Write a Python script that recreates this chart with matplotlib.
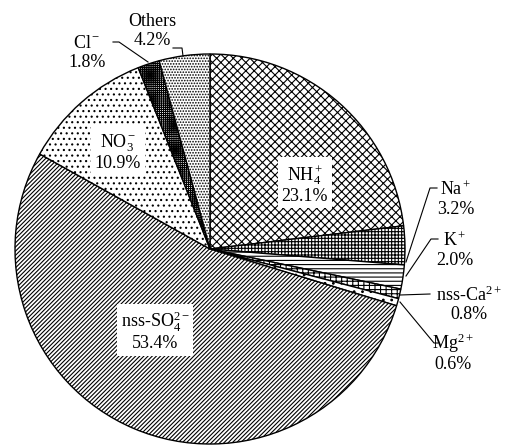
import matplotlib
matplotlib.use("Agg")
import matplotlib.pyplot as plt

plt.rcParams['font.family'] = ['Liberation Serif', 'DejaVu Serif']
plt.rcParams['mathtext.fontset'] = 'custom'
plt.rcParams['mathtext.rm'] = 'Liberation Serif'
plt.rcParams['mathtext.it'] = 'Liberation Serif:italic'
plt.rcParams['hatch.linewidth'] = 0.8

# ion shares, clockwise from 12 o'clock
ions = ['NH$_4^+$', 'Na$^+$', 'K$^+$', 'nss-Ca$^{2+}$', 'Mg$^{2+}$',
        'nss-SO$_4^{2-}$', 'NO$_3^-$', 'Cl$^-$', 'Others']
shares = [23.1, 3.2, 2.0, 0.8, 0.6, 53.4, 10.9, 1.8, 4.2]
hatches = ['xxxx', '+++++', '----', '+++-', '..', '////////', '...', '++++++++', '......']

H = 448  # figure height in px, labels are placed in pixel coords (y down)

fig = plt.figure(figsize=(5.10, 4.48), dpi=100)
ax = fig.add_axes([0, 0, 1, 1])

wedges, _ = ax.pie(shares, startangle=90, counterclock=False,
                   center=(210, H - 249), radius=195, frame=True,
                   wedgeprops=dict(facecolor='white', edgecolor='black', linewidth=1.0))
for w, h in zip(wedges, hatches):
    w.set_hatch(h)
ax.set_xlim(0, 510)
ax.set_ylim(0, H)
ax.set_aspect('equal')
ax.axis('off')

# label text position (px) and whether it sits inside the pie (white box)
label_pos = [(305, 184, True), (456, 199, False), (455, 250, False),
             (469, 304, False), (453, 352, False), (155, 331, True),
             (118, 152, True), (87, 53, False), (152, 31, False)]

for name, val, (x, y, inside) in zip(ions, shares, label_pos):
    s = f"{name}\n{val:.1f}%"
    kw = {}
    if inside:
        kw['bbox'] = dict(facecolor='white', edgecolor='none', pad=2.5)
    ax.text(x, H - y, s, ha='center', va='center', fontsize=13,
            linespacing=1.1, **kw)

# leader lines (px)
leaders = [
    [(437, 188), (430, 188), (406, 262)],
    [(438, 239), (431, 239), (406, 276)],
    [(400, 295), (430, 294)],
    [(400, 302), (434, 343), (438, 343)],
    [(113, 42), (119, 42), (148, 62)],
    [(173, 48), (182, 48), (183, 56)],
]
for pts in leaders:
    xs = [p[0] for p in pts]
    ys = [H - p[1] for p in pts]
    ax.plot(xs, ys, color='black', linewidth=0.8)

fig.savefig('out.png', dpi=100)
